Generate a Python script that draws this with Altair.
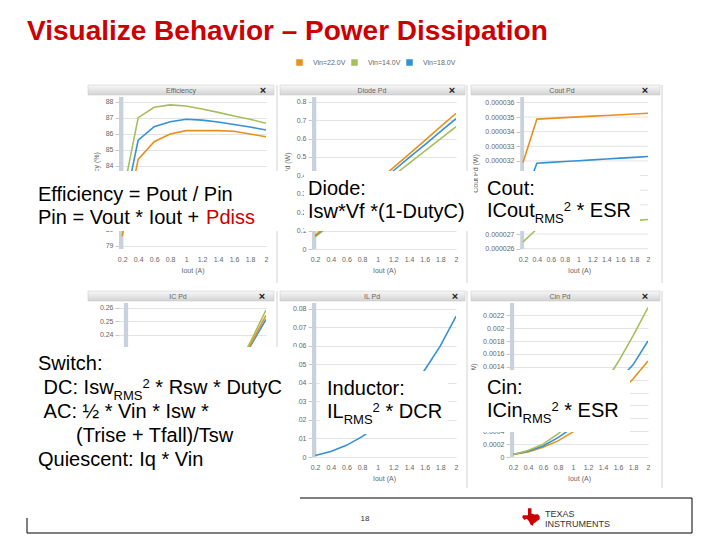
import altair as alt
import pandas as pd

FONT = "Liberation Sans"

SERIES = ["Vin=22.0V", "Vin=14.0V", "Vin=18.0V"]
COLORS = ["#E8901E", "#A4BF5C", "#3590D4"]

IOUT = [0.2, 0.4, 0.6, 0.8, 1.0, 1.2, 1.4, 1.6, 1.8, 2.0]
X_TICKS = [0.2, 0.4, 0.6, 0.8, 1.0, 1.2, 1.4, 1.6, 1.8, 2.0]

# Efficiency (%)
EFF_22 = [79.6, 84.4, 85.5, 85.98, 86.19, 86.19, 86.19, 86.15, 85.98, 85.81]
EFF_14 = [82.0, 87.0, 87.65, 87.8, 87.73, 87.54, 87.33, 87.1, 86.9, 86.65]
EFF_18 = [80.8, 85.6, 86.44, 86.75, 86.9, 86.85, 86.73, 86.58, 86.42, 86.23]
EFF_TICKS = [79, 80, 81, 82, 83, 84, 85, 86, 87, 88]

# Diode Pd (W)
DIODE_22 = [0.074, 0.147, 0.221, 0.294, 0.368, 0.442, 0.515, 0.589, 0.663, 0.737]
DIODE_14 = [0.066, 0.133, 0.199, 0.266, 0.332, 0.398, 0.465, 0.531, 0.598, 0.664]
DIODE_18 = [0.071, 0.142, 0.212, 0.283, 0.354, 0.425, 0.496, 0.566, 0.637, 0.708]
DIODE_TICKS = [0, 0.1, 0.2, 0.3, 0.4, 0.5, 0.6, 0.7, 0.8]

# Cout Pd (W)
COUT_22 = [0.0000319, 0.00003486, 0.00003491, 0.00003496, 0.00003501, 0.00003506, 0.00003511, 0.00003516, 0.00003521, 0.00003526]
COUT_14 = [0.00002647, 0.00002735, 0.00002743, 0.00002751, 0.00002759, 0.00002767, 0.00002776, 0.00002784, 0.00002792, 0.000028]
COUT_18 = [0.0000293, 0.00003184, 0.0000319, 0.00003196, 0.00003201, 0.00003207, 0.00003213, 0.00003219, 0.00003224, 0.0000323]
COUT_TICKS = [0.000026, 0.000027, 0.000028, 0.000029, 0.00003, 0.000031, 0.000032, 0.000033, 0.000034, 0.000035, 0.000036]

# IC Pd (W) - only the visible part
IC_X = [1.6, 1.8, 2.0]
IC_22 = [0.211, 0.233, 0.2545]
IC_14 = [0.213, 0.235, 0.2585]
IC_18 = [0.210, 0.232, 0.2515]
IC_TICKS = [0.24, 0.25, 0.26]

# IL Pd (W)
IND_18 = [0.0008, 0.003, 0.0063, 0.011, 0.017, 0.025, 0.035, 0.047, 0.060, 0.076]
IND_TICKS = [0, 0.01, 0.02, 0.03, 0.04, 0.05, 0.06, 0.07, 0.08]

# Cin Pd (W)
CIN_22 = [0.00004, 0.00008, 0.00015, 0.00025, 0.00039, 0.00055, 0.00075, 0.00098, 0.00121, 0.00149]
CIN_14 = [0.00004, 0.0001, 0.0002, 0.00036, 0.00057, 0.00082, 0.00111, 0.00147, 0.00188, 0.00232]
CIN_18 = [0.00004, 0.00009, 0.00017, 0.0003, 0.00046, 0.00066, 0.0009, 0.00118, 0.00143, 0.0018]
CIN_TICKS = [0, 0.0002, 0.0004, 0.0006, 0.0008, 0.001, 0.0012, 0.0014, 0.0016, 0.0018, 0.002, 0.0022]


def long_df(x, series_values):
    rows = []
    for name, vals in series_values:
        for xi, v in zip(x, vals):
            rows.append({"Iout": xi, "value": v, "series": name})
    return pd.DataFrame(rows)


ONE = pd.DataFrame({"k": [0]})
BAR = "#C9D2DC"
GRID = "#e3e3e3"


def vtext(s, x, y, size, color="#000000", weight="normal", align="left", baseline="alphabetic"):
    return alt.Chart(ONE).mark_text(
        text=s, fontSize=size, color=color, fontWeight=weight, align=align,
        baseline=baseline, font=FONT
    ).encode(x=alt.value(x), y=alt.value(y))


def vrect(x1, y1, x2, y2, fill="#ffffff", fillop=1.0):
    return alt.Chart(ONE).mark_rect(fill=fill, fillOpacity=fillop).encode(
        x=alt.value(x1), x2=alt.value(x2), y=alt.value(y1), y2=alt.value(y2)
    )


def vrule(x1, y1, x2, y2, color="#000000", sw=1.0):
    return alt.Chart(ONE).mark_rule(color=color, strokeWidth=sw).encode(
        x=alt.value(x1), x2=alt.value(x2), y=alt.value(y1), y2=alt.value(y2)
    )


GRAD = alt.LinearGradient(
    gradient="linear",
    stops=[alt.GradientStop(color="#f8f8f8", offset=0), alt.GradientStop(color="#d3d3d3", offset=1)],
    x1=0, x2=0, y1=0, y2=1,
)


def chrome(title, hx1, hx2, tx, cx, bx, bottom):
    return [
        vrule(bx, -12, bx, bottom, color="#d2d2d2"),
        alt.Chart(ONE).mark_rect(fill=GRAD, stroke="#c6c6c6", strokeWidth=0.5).encode(
            x=alt.value(hx1), x2=alt.value(hx2), y=alt.value(-12), y2=alt.value(-2)
        ),
        vtext(title, tx, -6.5, 7, color="#666666", align="center", baseline="middle"),
        vtext("×", cx, -6.5, 11, color="#222222", weight="bold", align="center", baseline="middle"),
    ]


def panel(df, xdom, ydom, yticks, yfmt, ytitle, w, h, before=(), after=(),
          yoffset=0, own_grid=False, show_x=True):
    xs = alt.Scale(domain=xdom, nice=False, zero=False)
    ys = alt.Scale(domain=ydom, nice=False, zero=False)
    if show_x:
        xax = alt.Axis(values=X_TICKS, format="~g", title="Iout (A)")
    else:
        xax = alt.Axis(values=X_TICKS, labels=False, title="")
    yax = alt.Axis(values=yticks, format=yfmt, title=ytitle, offset=yoffset, grid=not own_grid)
    layers = list(before)
    if own_grid:
        layers.append(
            alt.Chart(pd.DataFrame({"value": yticks})).mark_rule(color=GRID, strokeWidth=1).encode(
                y=alt.Y("value:Q", scale=ys, axis=yax),
                x=alt.X(datum=0.16, scale=xs, axis=xax),
                x2=alt.X2(datum=2.0),
            )
        )
    bar = alt.Chart(ONE).mark_rect(color=BAR).encode(
        x=alt.X(datum=0.16, scale=xs, axis=xax),
        x2=alt.X2(datum=0.215),
        y=alt.value(0),
        y2=alt.value(h),
    )
    lines = alt.Chart(df).mark_line(strokeWidth=1.6, clip=True).encode(
        x=alt.X("Iout:Q", scale=xs, axis=xax),
        y=alt.Y("value:Q", scale=ys, axis=yax),
        color=alt.Color("series:N", scale=alt.Scale(domain=SERIES, range=COLORS), title=None),
    )
    layers += [bar, lines] + list(after)
    return alt.layer(*layers).properties(width=w, height=h)


def spacer(w):
    return alt.Chart(ONE).mark_point(opacity=0).encode(x=alt.value(0), y=alt.value(0)).properties(width=w, height=1)


# ---------- Row 1 ----------
df_eff = long_df(IOUT, [(SERIES[0], EFF_22), (SERIES[1], EFF_14), (SERIES[2], EFF_18)])
df_dio = long_df(IOUT, [(SERIES[1], DIODE_14), (SERIES[2], DIODE_18), (SERIES[0], DIODE_22)])
df_cout = long_df(IOUT, [(SERIES[1], COUT_14), (SERIES[2], COUT_18), (SERIES[0], COUT_22)])

p1_before = [
    vrect(-111, -89, 593, 439, fill="#ffffff", fillop=0.0),
    vtext("Visualize Behavior – Power Dissipation", -92, -57, 28, color="#CC0000", weight="bold"),
] + chrome("Efficiency", -31, 155, 62, 144, 158, 186)
P1 = panel(df_eff, [0.16, 2.0], [78.81, 88.29], EFF_TICKS, "~g", "Efficiency (%)", 147, 152, before=p1_before)

P2 = panel(df_dio, [0.16, 2.0], [0, 0.8255], DIODE_TICKS, "~g", "Diode Pd (W)", 144, 152,
           before=chrome("Diode Pd", -32, 153, 60, 140, 155, 186))

row1_after = [
    vrect(-480, 74, -214, 134),
    vrect(-206, 74, -36, 134),
    vrect(-32, 74, 130, 134),
    vtext("Efficiency = Pout / Pin", -472, 103.5, 20),
    vtext("Pin = Vout * Iout +", -472, 126.5, 20),
    vtext("Pdiss", -303.9, 126.5, 20, color="#CC0000"),
    vtext("Diode:", -202, 98, 20),
    vtext("Isw*Vf *(1-DutyC)", -202, 120.5, 20),
    vtext("Cout:", -23, 98, 20),
    vtext("ICout", -23, 120, 20),
    vtext("RMS", 24.8, 125.5, 13),
    vtext("2", 53.7, 113.5, 13),
    vtext("* ESR", 66.5, 120, 20),
]
P3 = panel(df_cout, [0.013, 2.0], [0.00002598, 0.00003637], COUT_TICKS, ".6f", "Cout Pd (W)", 138, 152,
           before=chrome("Cout Pd", -39, 150, 52, 135, 152, 186), after=row1_after,
           yoffset=-10, own_grid=True)

# ---------- Row 2 ----------
df_ic = long_df(IC_X, [(SERIES[2], IC_18), (SERIES[0], IC_22), (SERIES[1], IC_14)])
df_ind = long_df(IOUT, [(SERIES[2], IND_18)])
df_cin = long_df(IOUT, [(SERIES[0], CIN_22), (SERIES[2], CIN_18), (SERIES[1], CIN_14)])

P4 = panel(df_ic, [0.097, 2.0], [0.1496, 0.2637], IC_TICKS, "~g", "IC Pd (W)", 147, 154,
           before=chrome("IC Pd", -31, 155, 59, 143, 158, 185), show_x=False)
P5 = panel(df_ind, [0.16, 2.0], [0, 0.0832], IND_TICKS, "~g", "IL Pd (W)", 144, 154,
           before=chrome("IL Pd", -32, 153, 60, 143, 155, 185))

TI_SHAPE = ("M -0.35,-1 L 0.05,-1 L 0.05,-0.4 L 0.4,-0.3 L 0.8,-0.32 L 1,-0.1 L 1,0.25 "
            "L 0.6,0.55 L 0.3,0.75 L 0.2,1 L -0.05,0.9 L -0.25,0.45 L -0.5,0.2 L -0.75,0.35 "
            "L -1,0.05 L -0.95,-0.2 L -0.35,-0.2 Z")

row2_after = [
    vrect(-480, 44, -212, 187),
    vrect(-190, 68, -62, 131),
    vrect(-40, 67, 120, 129),
    vtext("Switch:", -472, 67, 20),
    vtext("DC: Isw", -466.4, 91, 20),
    vtext("RMS", -396.4, 96.5, 13),
    vtext("2", -367.5, 84.5, 13),
    vtext("* Rsw * DutyC", -354.7, 91, 20),
    vtext("AC: ½ * Vin * Isw *", -466.4, 115, 20),
    vtext("(Trise + Tfall)/Tsw", -434, 139, 20),
    vtext("Quiescent: Iq * Vin", -472, 163, 20),
    vtext("Inductor:", -183, 92, 20),
    vtext("IL", -183, 115, 20),
    vtext("RMS", -166.3, 120.5, 13),
    vtext("2", -137.4, 108.5, 13),
    vtext("* DCR", -124.6, 115, 20),
    vtext("Cin:", -23, 91, 20),
    vtext("ICin", -23, 114, 20),
    vtext("RMS", 12.5, 119.5, 13),
    vtext("2", 41.4, 107.5, 13),
    vtext("* ESR", 54.2, 114, 20),
    # footer
    vrule(-210, 195, 182, 195),
    vrule(182, 195, 182, 230),
    vrule(-483, 230, 182, 230),
    vrule(-483, 215, -483, 230),
    vtext("18", -145, 218, 8, color="#333333", align="center"),
    alt.Chart(ONE).mark_point(
        shape=TI_SHAPE, size=300, filled=True, color="#CC0000", opacity=1,
    ).encode(x=alt.value(21), y=alt.value(214)),
    vtext("TEXAS", 35, 214, 9, color="#333333"),
    vtext("INSTRUMENTS", 35, 224, 9, color="#333333"),
]
P6 = panel(df_cin, [0.16, 2.0], [0, 0.00239], CIN_TICKS, "~g", "Cin Pd (W)", 138, 154,
           before=chrome("Cin Pd", -39, 150, 50, 135, 152, 185), after=row2_after)

chart = alt.concat(
    P1, spacer(46), P2, spacer(54), P3,
    P4, spacer(46), P5, spacer(54), P6,
    columns=5,
    spacing={"row": 54, "column": 0},
    bounds="flush",
    align="each",
).properties(padding=0, background="white").configure_view(stroke=None).configure_axis(
    labelFont=FONT, titleFont=FONT, labelFontSize=7, titleFontSize=7,
    labelColor="#666666", titleColor="#666666", titleFontWeight="normal",
    gridColor=GRID, gridWidth=1, domain=False, tickColor="#c8c8c8",
    labelOverlap=False, labelFlush=False, labelBound=False,
).configure_axisX(ticks=False, labelPadding=6, titlePadding=4).configure_axisY(
    tickSize=4, labelPadding=2, titlePadding=6
).configure_legend(
    orient="none", legendX=177, legendY=-38, direction="horizontal",
    symbolType="square", symbolSize=9, symbolStrokeWidth=3.5, labelFontSize=7, labelFont=FONT,
    labelColor="#666666", labelOffset=10, columnPadding=0, padding=0,
)

chart.save("out.html", embed_options={"renderer": "svg", "actions": False})
